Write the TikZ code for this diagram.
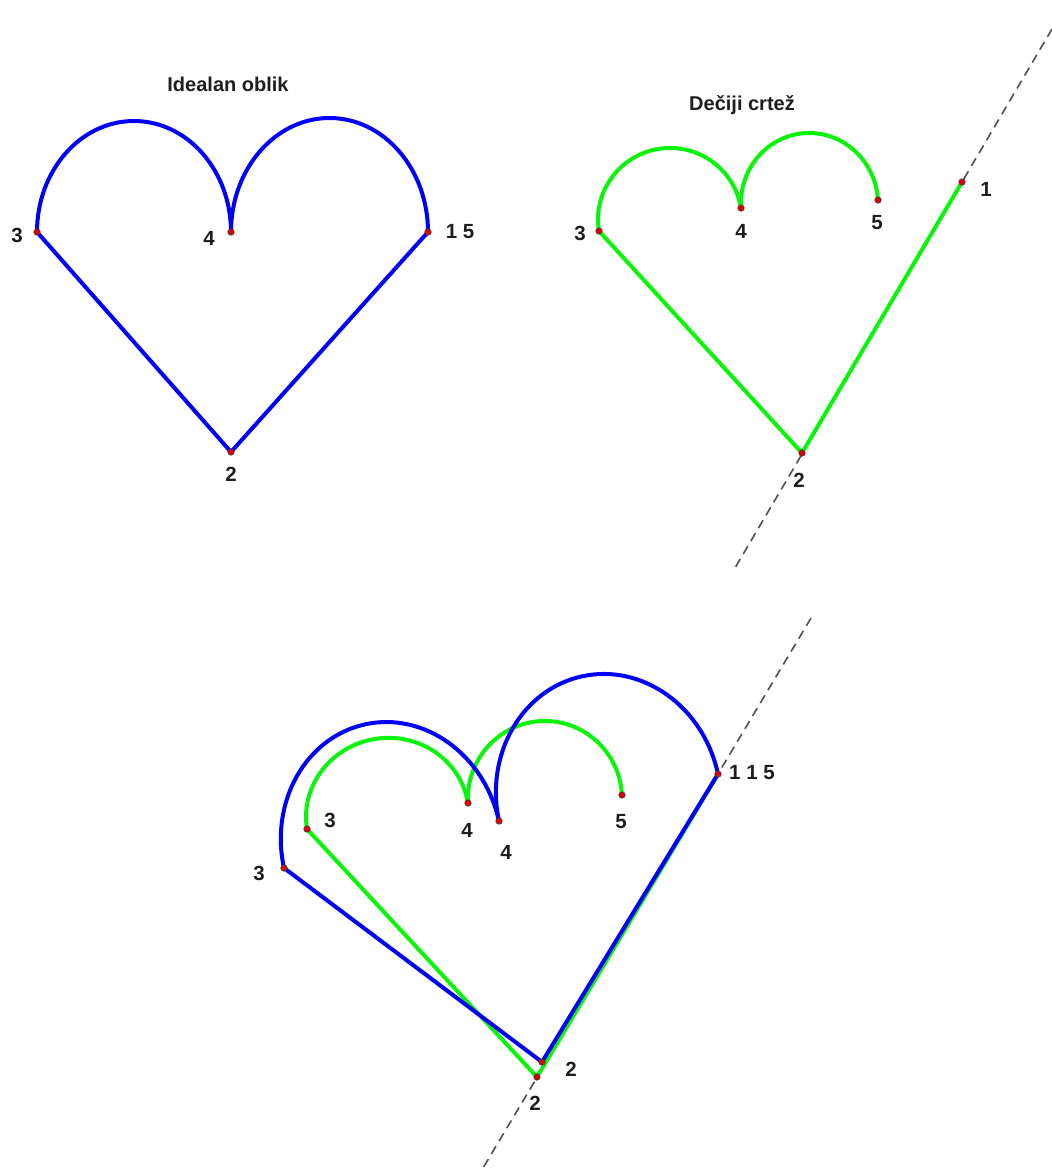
\documentclass[tikz,border=0pt]{standalone}
\usepackage{fontspec}
\setmainfont{Liberation Sans}
\definecolor{hblue}{RGB}{0,0,250}
\definecolor{hgreen}{RGB}{10,245,10}
\definecolor{dotred}{RGB}{225,0,0}
\definecolor{guidegray}{RGB}{80,80,80}
\definecolor{textgray}{RGB}{30,30,30}
\begin{document}
\begin{tikzpicture}[x=1pt,y=1pt,
  blueline/.style={draw=hblue, line width=4pt, line cap=round, line join=round},
  greenline/.style={draw=hgreen, line width=4pt, line cap=round, line join=round},
  guide/.style={draw=guidegray, line width=1.6pt, dash pattern=on 9pt off 6pt},
  dot/.style={circle, fill=dotred, draw=black!75, line width=0.6pt, inner sep=0pt, minimum size=6.5pt},
  lbl/.style={font=\bfseries\fontsize{20.5}{24}\selectfont, text=textgray, inner sep=0pt},
  ttl/.style={font=\bfseries\fontsize{20}{24}\selectfont, text=textgray, inner sep=0pt, anchor=base}]
\useasboundingbox (0,0) rectangle (1052,-1176);
\fill[white] (0,0) rectangle (1052,-1176);

% ---- ideal heart
\coordinate (i1) at (428,-232);
\coordinate (i2) at (231,-452);
\coordinate (i3) at (37,-232);
\coordinate (i4) at (231,-232);
% ---- child drawing
\coordinate (c1) at (962,-182);
\coordinate (c2) at (802,-453);
\coordinate (c3) at (599,-231);
\coordinate (c4) at (741,-208);
\coordinate (c5) at (878,-200);
\coordinate (ct) at (1052,-29);
\coordinate (cb) at (735,-568);
% ---- overlay
\coordinate (b1) at (718,-774);
\coordinate (b2) at (542,-1062);
\coordinate (b3) at (284,-868);
\coordinate (b4) at (499,-821);
\coordinate (g2) at (537,-1077);
\coordinate (g3) at (307,-829);
\coordinate (g4) at (468,-803);
\coordinate (g5) at (622,-795);
\coordinate (bt) at (811,-618);
\coordinate (bb) at (483,-1168);

% guide lines
\draw[guide] (ct) -- (cb);
\draw[guide] (bt) -- (bb);

% ideal heart
\draw[blueline] (i3) arc[start angle=180, end angle=0, x radius=97, y radius=111];
\draw[blueline] (i4) arc[start angle=180, end angle=0, x radius=98.5, y radius=114];
\draw[blueline] (i3) -- (i2) -- (i1);

% child drawing
\draw[greenline, rotate=9.20] (c3) arc[start angle=180, end angle=0, x radius=71.9, y radius=71.5];
\draw[greenline, rotate=3.34] (c4) arc[start angle=180, end angle=0, x radius=68.6, y radius=71];
\draw[greenline] (c3) -- (c2) -- (c1);

% overlay
\draw[greenline, rotate=9.17] (g3) arc[start angle=180, end angle=0, x radius=81.5, y radius=78];
\draw[greenline, rotate=2.97] (g4) arc[start angle=180, end angle=0, x radius=77.1, y radius=78];
\draw[greenline] (g3) -- (g2) -- (b1);
\draw[blueline, rotate=12.33] (b3) arc[start angle=180, end angle=0, x radius=110, y radius=123];
\draw[blueline, rotate=12.11] (b4) arc[start angle=180, end angle=0, x radius=112, y radius=124];
\draw[blueline] (b3) -- (b2) -- (b1);

% dots
\foreach \p in {i1,i2,i3,i4,c1,c2,c3,c4,c5,b1,b2,b3,b4,g2,g3,g4,g5}
  \node[dot] (d\p) at (\p) {};

% titles
\node[ttl] (t1) at (228,-91) {Idealan oblik};
\node[ttl] (t2) at (742,-110) {Dečiji crtež};

% labels ideal
\node[lbl] (li3) at (17,-235) {3};
\node[lbl] (li4) at (209,-238) {4};
\node[lbl] (li1) at (460,-232) {1 5};
\node[lbl] (li2) at (231,-474) {2};
% labels child
\node[lbl] (lc3) at (580,-233) {3};
\node[lbl] (lc4) at (741,-231) {4};
\node[lbl] (lc5) at (877,-223) {5};
\node[lbl] (lc1) at (986,-189) {1};
\node[lbl] (lc2) at (799,-480) {2};
% labels overlay
\node[lbl] (lb3) at (259,-873) {3};
\node[lbl] (lg3) at (330,-820) {3};
\node[lbl] (lg4) at (467,-830) {4};
\node[lbl] (lb4) at (506,-852) {4};
\node[lbl] (lg5) at (621,-822) {5};
\node[lbl] (lb1) at (752,-773) {1 1 5};
\node[lbl] (lb2) at (571,-1069) {2};
\node[lbl] (lg2) at (535,-1103) {2};
\end{tikzpicture}
\end{document}
